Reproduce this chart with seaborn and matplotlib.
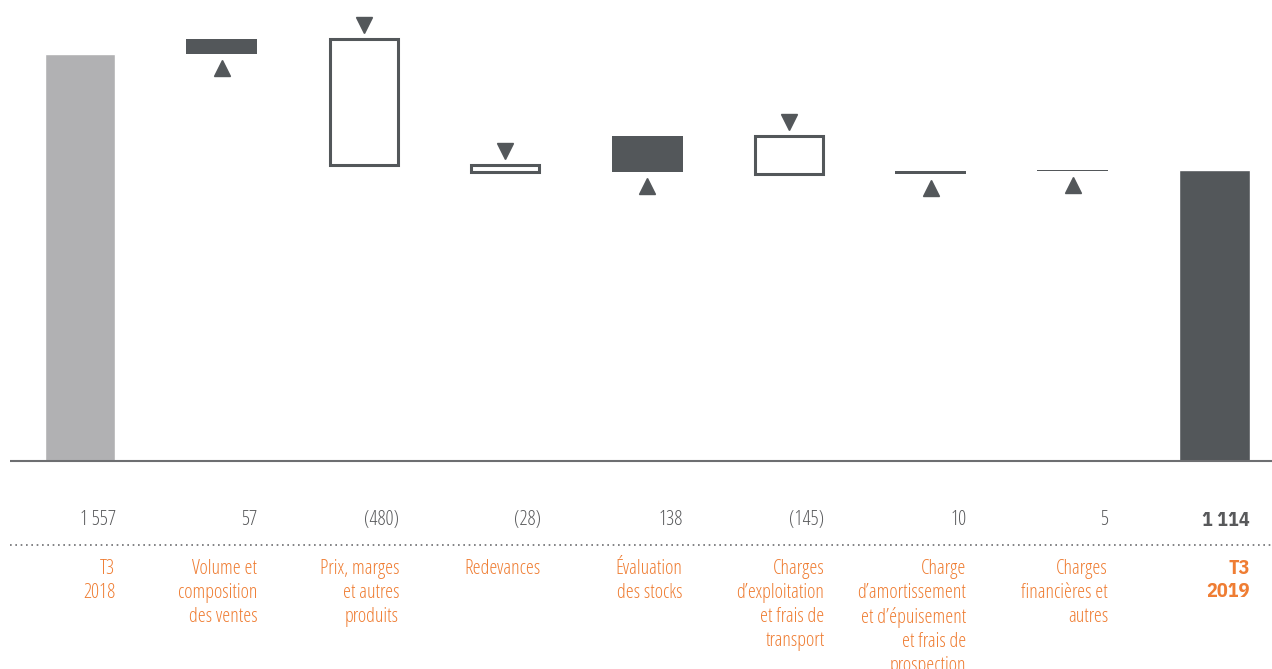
import matplotlib
matplotlib.use("Agg")
import matplotlib.pyplot as plt
import matplotlib.transforms as mtransforms
from matplotlib.font_manager import FontProperties
import pandas as pd
import seaborn as sns

# Bridge items, in order
categories = [
    "T3\n2018",
    "Volume et\ncomposition\ndes ventes",
    "Prix, marges\net autres\nproduits",
    "Redevances",
    "Évaluation\ndes stocks",
    "Charges\nd’exploitation\net frais de\ntransport",
    "Charge\nd’amortissement\net d’épuisement\net frais de\nprospection",
    "Charges\nfinancières et\nautres",
    "T3\n2019",
]
values = [1557, 57, -480, -28, 138, -145, 10, 5, 1114]
value_labels = ["1 557", "57", "(480)", "(28)", "138", "(145)", "10", "5", "1 114"]
bold_item = [False, False, False, False, False, False, False, False, True]

DARK = "#53575a"
LIGHT = "#b1b1b3"
ORANGE = "#ef7d33"
TEXT = "#58595b"
LINE = "#6d6e71"

sns.set_theme(style="white")
plt.rcParams["font.family"] = ["Open Sans", "DejaVu Sans"]

FS = 14.5
light = FontProperties(family="Open Sans", stretch="condensed", weight=300, size=FS)
heavy = FontProperties(family="IBM Plex Sans Condensed", weight=700, size=FS)

fig = plt.figure(figsize=(12.72, 6.69), dpi=100)
ax = fig.add_axes([0, 0, 1, 1])

# Opening and closing totals
totals = pd.DataFrame({
    "item": [categories[0], categories[-1]],
    "value": [values[0], values[-1]],
})
sns.barplot(data=totals, x="item", y="value", order=categories,
            hue="item", palette=[LIGHT, DARK], width=0.5,
            legend=False, ax=ax, saturation=1)

# Floating bridge steps
running = values[0]
tri_gap = 53
for i in range(1, len(values) - 1):
    v = values[i]
    lo = running if v > 0 else running + v
    hi = running + v if v > 0 else running
    if v > 0:
        ax.bar(i, hi - lo, bottom=lo, width=0.5, color=DARK, linewidth=0)
        ax.plot(i, lo - tri_gap, marker="^", markersize=12,
                color=DARK, linestyle="none")
    else:
        ax.bar(i, hi - lo, bottom=lo, width=0.48, facecolor="white",
               edgecolor=DARK, linewidth=2.2)
        ax.plot(i, hi + tri_gap, marker="v", markersize=12,
                color=DARK, linestyle="none")
    running += v

ax.set_xlim(-0.564, 8.406)
ax.set_ylim(-796, 1764)
ax.axis("off")

# Baseline
ax.plot([-0.494, 8.406], [0, 0], color=LINE, linewidth=1.5,
        solid_capstyle="butt")

trans = mtransforms.blended_transform_factory(ax.transData, ax.transAxes)

# Value row
for i, lab in enumerate(value_labels):
    ax.text(i + 0.25, 0.2227, lab, transform=trans, ha="right", va="center",
            color=TEXT, fontproperties=heavy if bold_item[i] else light)

# Dotted separator
ax.plot([-0.494, 8.406], [0.1854, 0.1854], transform=trans, color=LINE,
        linewidth=1.2, linestyle=(0, (1, 2.2)))

# Category labels
for i, cat in enumerate(categories):
    ax.text(i + 0.25, 0.1645, cat, transform=trans, ha="right", va="top",
            color=ORANGE, linespacing=1.3 if bold_item[i] else 1.26,
            fontproperties=heavy if bold_item[i] else light)

fig.savefig("out.png", dpi=100)
